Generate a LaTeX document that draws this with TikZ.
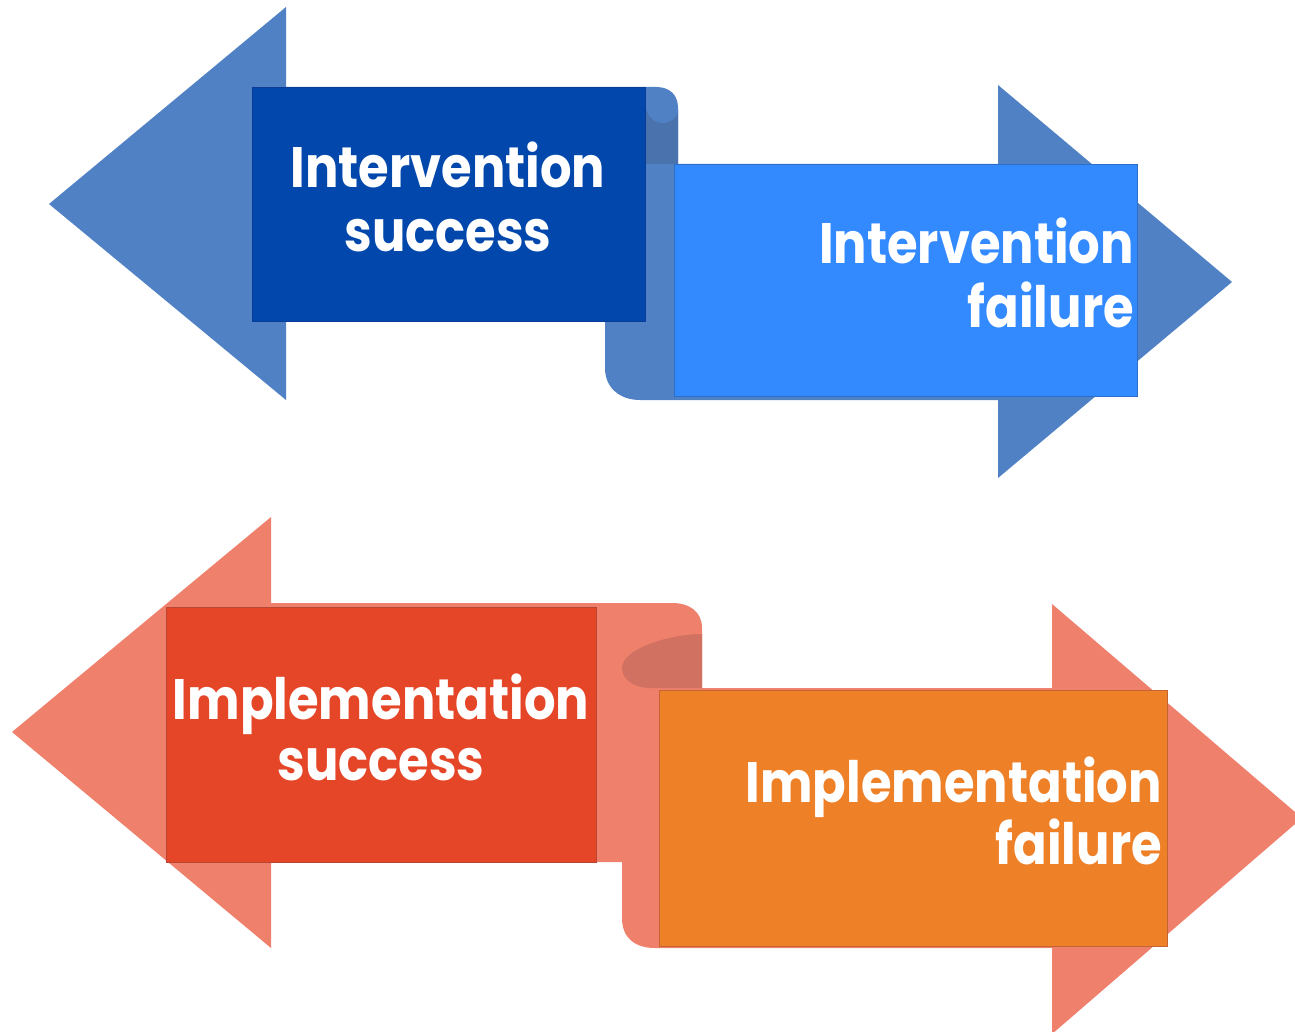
\documentclass[tikz,border=0pt]{standalone}
\usepackage{fontspec}
\newfontfamily\lblfont{Poppins}[FakeStretch=0.87]
\definecolor{bluemain}{RGB}{80,129,196}
\definecolor{bluecurl}{RGB}{74,115,174}
\definecolor{bluedark}{RGB}{2,71,171}
\definecolor{bluedarkline}{RGB}{10,60,150}
\definecolor{bluelight}{RGB}{51,138,255}
\definecolor{bluelightline}{RGB}{45,110,200}
\definecolor{redmain}{RGB}{238,128,108}
\definecolor{redcurl}{RGB}{208,113,97}
\definecolor{redbox}{RGB}{229,70,40}
\definecolor{redboxline}{RGB}{185,70,50}
\definecolor{orangebox}{RGB}{238,128,40}
\definecolor{orangeboxline}{RGB}{195,100,50}
\tikzset{
  lbl/.style={text=white, inner sep=0pt, font=\lblfont\bfseries\fontsize{57}{62}\selectfont},
  boxline/.style={line width=1pt}
}
\begin{document}
\begin{tikzpicture}[x=1pt,y=-1pt]
\useasboundingbox (0,0) rectangle (1295,1032);
% ---------------- blue ribbon ----------------
\fill[bluemain] (286,87) -- (656,87) .. controls (670,87) and (678,95) .. (678,108)
  -- (678,164) -- (998,164) -- (998,85) -- (1232,282) -- (998,478) -- (998,400)
  -- (640,400) .. controls (620,400) and (605,388) .. (605,368) -- (605,321)
  -- (286,321) -- (286,400) -- (49,204) -- (286,7) -- cycle;
\fill[bluecurl] (645,106) .. controls (648,118) and (655,123) .. (662,123)
  .. controls (670,123) and (678,118) .. (678,110) -- (678,164) -- (645,164) -- cycle;
\node[draw=bluedarkline, boxline, fill=bluedark, minimum width=393pt, minimum height=234pt, inner sep=0pt, anchor=north west] (isbox) at (252,87) {};
\node[draw=bluelightline, boxline, fill=bluelight, minimum width=463pt, minimum height=232pt, inner sep=0pt, anchor=north west] (ifbox) at (674,164) {};
\node[lbl, anchor=base] (is1) at (448,188) {Intervention};
\node[lbl, anchor=base] (is2) at (448,252) {success};
\node[lbl, anchor=base east] (if1) at (1134,264) {Intervention};
\node[lbl, anchor=base east] (if2) at (1134,327) {failure};
% ---------------- red ribbon ----------------
\fill[redmain] (271,603) -- (672,603) .. controls (690,603) and (702,612) .. (702,628)
  -- (702,688) -- (1052,688) -- (1052,604) -- (1302,818) -- (1052,1034) -- (1052,948)
  -- (655,948) .. controls (635,948) and (622,938) .. (622,918) -- (622,862)
  -- (271,862) -- (271,948) -- (12,732) -- (271,517) -- cycle;
\fill[redcurl] (702,634) .. controls (672,634) and (622,648) .. (622,668)
  .. controls (622,680) and (635,688) .. (650,688) -- (702,688) -- cycle;
\node[draw=redboxline, boxline, fill=redbox, minimum width=430pt, minimum height=255pt, inner sep=0pt, anchor=north west] (imsbox) at (166,607) {};
\node[draw=orangeboxline, boxline, fill=orangebox, minimum width=508pt, minimum height=256pt, inner sep=0pt, anchor=north west] (imfbox) at (659,690) {};
\node[lbl, anchor=base] (ims1) at (381,719) {Implementation};
\node[lbl, anchor=base] (ims2) at (381,780) {success};
\node[lbl, anchor=base east] (imf1) at (1162,802) {Implementation};
\node[lbl, anchor=base east] (imf2) at (1162,864) {failure};
\end{tikzpicture}
\end{document}
